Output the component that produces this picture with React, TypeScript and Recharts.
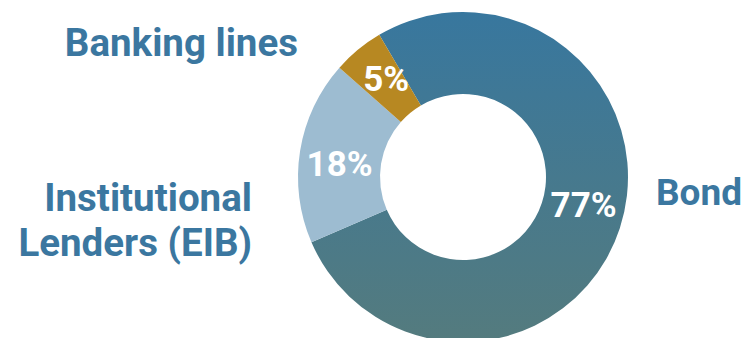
import React from "react";
import { PieChart, Pie, Cell } from "recharts";

const categories = ["Bond", "Institutional Lenders (EIB)", "Banking lines"];
const values = [77, 18, 5];
const percentLabels = ["77%", "18%", "5%"];
const colors = ["url(#bondGrad)", "#9dbcd1", "#b78822"];

const data = categories.map((name, i) => ({ name, value: values[i], label: percentLabels[i] }));

const RAD = Math.PI / 180;
const FONT = "Roboto, 'Noto Sans', sans-serif";
const TEXT_COLOR = "#3b77a0";
// small angular nudge (degrees) of the in-slice percentage labels
const labelAngleShift = [4.7, 3.5, -1.2];

const renderLabel = (props: any) => {
  const { cx, cy, midAngle, innerRadius, outerRadius, index } = props;
  const r = (innerRadius + outerRadius) / 2;
  const a = midAngle + labelAngleShift[index];
  const x = cx + r * Math.cos(-a * RAD);
  const y = cy + r * Math.sin(-a * RAD);
  return (
    <text
      x={x}
      y={y}
      fill="#ffffff"
      textAnchor="middle"
      dominantBaseline="central"
      fontFamily={FONT}
      fontWeight={700}
      fontSize={35}
    >
      {data[index].label}
    </text>
  );
};

export default function App() {
  return (
    <div style={{ position: "absolute", left: 0, top: 0, width: 744, height: 338, background: "#fff", overflow: "hidden" }}>
      <PieChart width={744} height={338} margin={{ top: 0, right: 0, bottom: 0, left: 0 }}>
        <defs>
          <linearGradient id="bondGrad" x1="0" y1="0" x2="0" y2="1">
            <stop offset="0%" stopColor="#38779e" />
            <stop offset="100%" stopColor="#547b7e" />
          </linearGradient>
        </defs>
        <Pie
          data={data}
          dataKey="value"
          nameKey="name"
          cx={463}
          cy={177}
          innerRadius={83}
          outerRadius={165}
          startAngle={120.5}
          endAngle={-239.5}
          stroke="none"
          label={renderLabel}
          labelLine={false}
          isAnimationActive={false}
        >
          {data.map((d, i) => (
            <Cell key={d.name} fill={colors[i]} />
          ))}
        </Pie>
      </PieChart>
      <svg width={744} height={338} style={{ position: "absolute", left: 0, top: 0, pointerEvents: "none" }}>
        <g fontFamily={FONT} fontWeight={700} fill={TEXT_COLOR}>
          <text x={298} y={56} textAnchor="end" fontSize={38.5}>Banking lines</text>
          <text x={252} y={211} textAnchor="end" fontSize={38.5}>Institutional</text>
          <text x={252} y={256} textAnchor="end" fontSize={38.5}>Lenders (EIB)</text>
          <text x={656} y={205} textAnchor="start" fontSize={37}>Bond</text>
        </g>
      </svg>
    </div>
  );
}
